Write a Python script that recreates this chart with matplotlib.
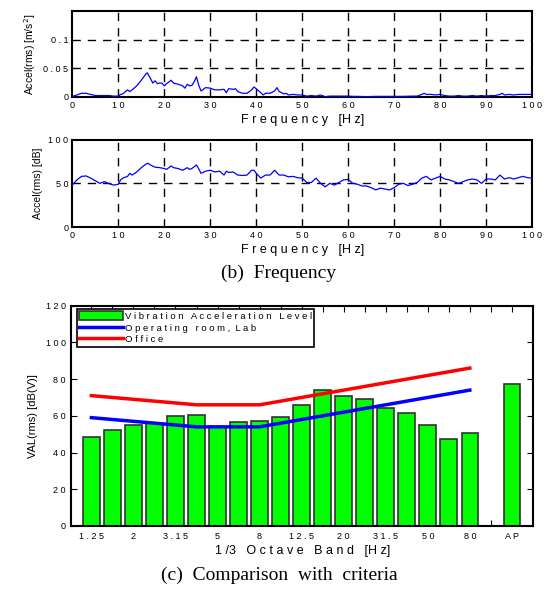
"""Vibration acceleration: frequency spectra and 1/3 octave comparison
with the operating room / office criteria curves.
"""

import matplotlib.pyplot as plt
from matplotlib.patches import Patch
from matplotlib.lines import Line2D

plt.rcParams["font.family"] = ["Liberation Sans", "DejaVu Sans"]

# (b) frequency spectrum, rms acceleration [m/s^2]
FREQ_MS2 = [
    0, 1, 2, 3, 4, 5, 6, 7, 8, 9, 10, 10.5, 11, 12, 12.5, 13, 14, 15, 16,
    16.3, 17, 17.5, 18, 18.5, 19, 19.5, 20, 20.5, 21, 21.5, 22, 22.5, 23,
    24, 24.5, 25, 25.5, 26, 26.5, 27, 27.5, 28, 28.5, 29, 30, 31, 32, 33,
    33.5, 34, 35, 35.5, 36, 37, 38, 39, 39.5, 40, 41, 41.5, 42, 43, 44,
    44.5, 45, 46, 46.5, 47, 48, 49, 50, 51, 52, 53, 54, 55, 56, 57, 58, 59,
    60, 61, 62, 64, 66, 68, 70, 72, 74, 75, 76, 76.5, 77, 78, 79, 80, 81,
    82, 83, 84, 85, 86, 87, 88, 89, 90, 91, 92, 93, 93.5, 94, 95, 96, 97,
    98, 99, 100,
]
ACCEL_MS2 = [
    0.0005, 0.003, 0.006, 0.006, 0.004, 0.002, 0.002, 0.002, 0.002, 0.001,
    0.001, 0.004, 0.005, 0.012, 0.009, 0.012, 0.019, 0.029, 0.040, 0.042,
    0.032, 0.024, 0.028, 0.023, 0.024, 0.024, 0.019, 0.023, 0.026, 0.029,
    0.024, 0.023, 0.022, 0.019, 0.015, 0.022, 0.019, 0.020, 0.026, 0.035,
    0.020, 0.010, 0.013, 0.016, 0.015, 0.012, 0.012, 0.013, 0.007, 0.014,
    0.013, 0.014, 0.009, 0.006, 0.006, 0.012, 0.017, 0.014, 0.007, 0.003,
    0.006, 0.006, 0.010, 0.016, 0.009, 0.005, 0.006, 0.003, 0.004, 0.003,
    0.003, 0.001, 0.002, 0.001, 0.003, 0.0, 0.001, 0.001, 0.001, 0.001,
    0.001, 0.0005, 0.0005, 0.0, 0.0005, 0.0005, 0.0005, 0.0005, 0.001,
    0.001, 0.004, 0.006, 0.004, 0.004, 0.003, 0.004, 0.002, 0.001, 0.001,
    0.002, 0.001, 0.001, 0.002, 0.001, 0.002, 0.001, 0.002, 0.002, 0.004,
    0.006, 0.003, 0.004, 0.003, 0.004, 0.004, 0.004, 0.004,
]

# (b) frequency spectrum, rms acceleration [dB]
FREQ_DB = [
    0, 0.5, 1, 2, 3, 4, 5, 6, 7, 8, 9, 10, 10.5, 11, 12, 12.5, 13, 14, 15,
    16, 16.5, 17, 18, 19, 20, 20.5, 21, 21.5, 22, 23, 24, 25, 25.5, 26, 27,
    27.5, 28, 29, 30, 31, 32, 33, 33.5, 34, 35, 36, 37, 38, 39, 39.5, 40,
    41, 42, 43, 44, 45, 46, 47, 48, 49, 50, 51, 52, 53, 54, 55, 56, 57, 58,
    59, 60, 61, 62, 63, 64, 65, 66, 67, 68, 69, 70, 71, 72, 73, 74, 75, 76,
    77, 78, 79, 80, 81, 82, 83, 84, 85, 86, 87, 88, 89, 90, 91, 92, 93, 94,
    95, 96, 97, 98, 99, 100,
]
ACCEL_DB = [
    48, 51, 54, 58, 58.5, 56, 53, 50, 52, 49.6, 48, 49, 54, 56, 58, 61.5,
    59.5, 63, 68, 72, 73, 71, 68.5, 68, 67, 66, 68, 70, 68, 67, 65, 68, 66,
    67, 71, 66.5, 61.5, 64, 65, 63, 64, 59.5, 64, 62.5, 63, 59.5, 59, 59.5,
    65, 65, 61.5, 56, 59.5, 59.5, 65, 59.5, 59.5, 57.5, 58, 56.5, 56, 51,
    51, 56, 50, 46, 50, 48, 51, 54, 54.5, 50, 49, 47, 47, 45, 42.5, 44.5,
    43.5, 42.5, 45, 49, 50, 47.5, 49, 51, 56, 58, 54, 56, 58, 55, 54, 52,
    50, 52, 54, 55, 54, 50, 55, 55, 54, 59.5, 55, 56.5, 55, 56.5, 58, 56.5,
    56,
]

# (c) 1/3 octave band levels and criteria curves
BANDS = [
    "1.25", "1.6", "2", "2.5", "3.15", "4", "5", "6.3", "8", "10", "12.5",
    "16", "20", "25", "31.5", "40", "50", "63", "80",
]
VAL_BANDS = [
    48.7, 52.3, 55.0, 56.0, 60.1, 60.5, 54.0, 56.7, 57.4, 59.4, 66.1, 74.2,
    70.8, 69.0, 64.4, 61.5, 55.0, 47.4, 50.7,
]
VAL_AP = 77.6
OPERATING_ROOM = [
    59, 58, 57, 56, 55, 54, 54, 54, 54, 56, 58, 60, 62, 64, 66, 68, 70,
    72, 74,
]
OFFICE = [
    71, 70, 69, 68, 67, 66, 66, 66, 66, 68, 70, 72, 74, 76, 78, 80, 82,
    84, 86,
]
BAND_TICK_LABELS = [
    "1 . 2 5", "2", "3 . 1 5", "5", "8", "1 2 . 5", "2 0", "3 1 . 5",
    "5 0", "8 0", "A P",
]

FREQ_TICKS = [0, 10, 20, 30, 40, 50, 60, 70, 80, 90, 100]
FREQ_TICK_LABELS = [" ".join(str(t)) for t in FREQ_TICKS]

TICK_SIZE = 6.5
LABEL_SIZE = 9


def style_spectrum(ax, ylim, yticks, yticklabels, ylabel):
    ax.set_xlim(0, 100)
    ax.set_ylim(*ylim)
    ax.set_xticks(FREQ_TICKS)
    ax.set_xticklabels(FREQ_TICK_LABELS, fontsize=TICK_SIZE)
    ax.set_yticks(yticks)
    ax.set_yticklabels(yticklabels, fontsize=TICK_SIZE)
    ax.tick_params(length=0, pad=3)
    for t in FREQ_TICKS[1:-1]:
        ax.axvline(t, color="black", lw=1.0, ls=(0, (6, 5)), zorder=1)
    for y in yticks[1:]:
        if y < ylim[1]:
            ax.axhline(y, color="black", lw=1.0, ls=(0, (6, 5)), zorder=1)
    for s in ax.spines.values():
        s.set_linewidth(1.5)
    ax.set_xlabel("F r e q u e n c y   [H z]", fontsize=LABEL_SIZE,
                  labelpad=3)
    ax.set_ylabel(ylabel, fontsize=7.5, labelpad=4)


def main():
    fig = plt.figure(figsize=(5.58, 5.91), dpi=100)

    ax1 = fig.add_axes([0.1296, 0.8364, 0.824, 0.1442])
    ax1.plot(FREQ_MS2, ACCEL_MS2, color="blue", lw=0.9, zorder=3)
    style_spectrum(ax1, (0, 0.15), [0, 0.05, 0.1],
                   ["0", "0 . 0 5", "0 . 1"], "Accel(rms) [m/s$^2$]")

    ax2 = fig.add_axes([0.1296, 0.6159, 0.824, 0.1477])
    ax2.plot(FREQ_DB, ACCEL_DB, color="blue", lw=0.9, zorder=3)
    style_spectrum(ax2, (0, 100), [0, 50, 100],
                   ["0", "5 0", "1 0 0"], "Accel(rms) [dB]")

    fig.text(0.5, 0.538, "(b)  Frequency", ha="center", va="center",
             fontsize=14, family="Liberation Serif")

    ax3 = fig.add_axes([0.128, 0.11, 0.827, 0.3728])
    positions = list(range(len(BANDS)))
    ap_pos = len(BANDS) + 1
    ax3.bar(positions + [ap_pos], VAL_BANDS + [VAL_AP], width=0.79,
            color="#00ff00", edgecolor="#333333", linewidth=1.2, zorder=2)
    ax3.plot(positions, OPERATING_ROOM, color="blue", lw=2.5, zorder=3)
    ax3.plot(positions, OFFICE, color="red", lw=2.5, zorder=3)

    ax3.set_xlim(-0.95, ap_pos + 1.0)
    ax3.set_ylim(0, 120)
    ax3.set_xticks(list(range(0, len(BANDS), 2)) + [ap_pos])
    ax3.set_xticklabels(BAND_TICK_LABELS, fontsize=TICK_SIZE)
    ax3.set_xticks(list(range(ap_pos + 1)), minor=True)
    ax3.set_yticks(range(0, 121, 20))
    ax3.set_yticklabels([" ".join(str(v)) for v in range(0, 121, 20)],
                        fontsize=TICK_SIZE)
    ax3.tick_params(which="both", direction="in", top=True, right=True,
                    length=4, width=0.8, pad=4)
    for s in ax3.spines.values():
        s.set_linewidth(1.5)
    ax3.set_xlabel("1 /3   O c t a v e   B a n d   [H z]",
                   fontsize=LABEL_SIZE, labelpad=3)
    ax3.set_ylabel("VAL(rms) [dB(V)]", fontsize=8, labelpad=6)

    handles = [
        Patch(facecolor="#00ff00", edgecolor="#333333", linewidth=1.2),
        Line2D([], [], color="blue", lw=2.5),
        Line2D([], [], color="red", lw=2.5),
    ]
    labels = [
        "V i b r a t i o n   A c c e l e r a t i o n   L e v e l",
        "O p e r a t i n g   r o o m ,  L a b",
        "O f f i c e",
    ]
    leg = ax3.legend(handles, labels, loc="upper left",
                     bbox_to_anchor=(0.012, 0.985), fontsize=6.8,
                     handlelength=4.6, handleheight=1.1, handletextpad=0.2,
                     borderpad=0.25, labelspacing=0.2, fancybox=False,
                     framealpha=1, borderaxespad=0)
    leg.get_frame().set_edgecolor("black")
    leg.get_frame().set_linewidth(1.2)

    fig.text(0.5, 0.026, "(c)  Comparison  with  criteria", ha="center",
             va="center", fontsize=14, family="Liberation Serif")

    fig.savefig("out.png", dpi=100)
    plt.close(fig)


if __name__ == "__main__":
    main()
